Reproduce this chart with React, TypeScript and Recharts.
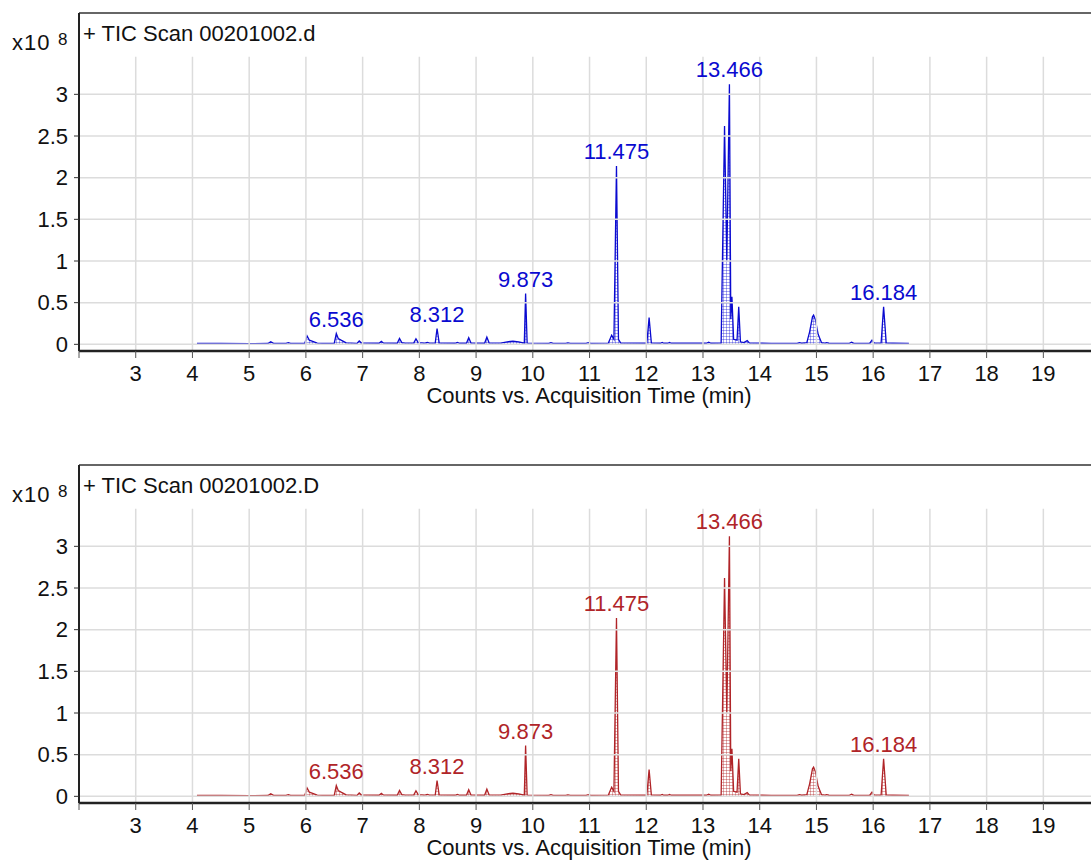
import React from 'react';
import { ComposedChart, Area, XAxis, YAxis, ReferenceLine, ReferenceDot } from 'recharts';

// Retention time (min)
const times = [
  4.08, 4.5, 5.0, 5.33, 5.38, 5.43, 5.65, 5.69, 5.73, 5.98,
  6.02, 6.06, 6.12, 6.2, 6.3, 6.5, 6.536, 6.57, 6.62, 6.71,
  6.9, 6.94, 6.98, 7.29, 7.33, 7.37, 7.61, 7.65, 7.69, 7.75,
  7.9, 7.94, 7.98, 8.1, 8.14, 8.18, 8.28, 8.312, 8.35, 8.63,
  8.67, 8.71, 8.83, 8.87, 8.91, 9.15, 9.19, 9.23, 9.43, 9.55,
  9.65, 9.75, 9.85, 9.873, 9.9, 10.28, 10.32, 10.36, 10.58, 10.62,
  10.66, 10.94, 10.98, 11.02, 11.33, 11.39, 11.43, 11.475, 11.51, 11.55,
  12.01, 12.05, 12.09, 12.25, 12.28, 12.31, 12.38, 12.41, 12.44, 13.06,
  13.1, 13.14, 13.32, 13.38, 13.42, 13.466, 13.49, 13.51, 13.54, 13.6,
  13.63, 13.66, 13.72, 13.78, 13.82, 14.2, 14.66, 14.7, 14.74, 14.83,
  14.88, 14.93, 14.95, 14.98, 15.03, 15.09, 15.15, 15.18, 15.22, 15.58,
  15.62, 15.66, 15.94, 15.98, 16.02, 16.14, 16.184, 16.23, 16.35, 16.63,
];

// Counts (x10^8)
const counts = [
  0.012, 0.01, 0.008, 0.01, 0.03, 0.012, 0.012, 0.02, 0.012, 0.012,
  0.1, 0.05, 0.035, 0.015, 0.012, 0.013, 0.13, 0.07, 0.05, 0.018,
  0.012, 0.04, 0.015, 0.013, 0.035, 0.014, 0.013, 0.07, 0.02, 0.015,
  0.014, 0.065, 0.02, 0.014, 0.022, 0.014, 0.014, 0.19, 0.016, 0.013,
  0.022, 0.013, 0.013, 0.08, 0.016, 0.013, 0.087, 0.016, 0.014, 0.03,
  0.038, 0.03, 0.015, 0.61, 0.014, 0.012, 0.02, 0.012, 0.012, 0.018,
  0.012, 0.012, 0.02, 0.012, 0.014, 0.11, 0.06, 2.14, 0.06, 0.015,
  0.013, 0.32, 0.014, 0.013, 0.022, 0.013, 0.013, 0.022, 0.013, 0.013,
  0.025, 0.013, 0.015, 2.62, 1.0, 3.12, 0.3, 0.57, 0.06, 0.05,
  0.45, 0.03, 0.02, 0.045, 0.015, 0.012, 0.012, 0.02, 0.013, 0.02,
  0.15, 0.33, 0.35, 0.3, 0.12, 0.02, 0.015, 0.02, 0.013, 0.012,
  0.025, 0.012, 0.013, 0.05, 0.014, 0.015, 0.45, 0.015, 0.013, 0.012,
];

const peakTimes = [6.536, 8.312, 9.873, 11.475, 13.466, 16.184];
const peakHeights = [0.13, 0.19, 0.61, 2.14, 3.12, 0.45];
const peakLabels = ['6.536', '8.312', '9.873', '11.475', '13.466', '16.184'];

const xTicks = [2, 3, 4, 5, 6, 7, 8, 9, 10, 11, 12, 13, 14, 15, 16, 17, 18, 19];
const gridTimes = [3, 4, 5, 6, 7, 8, 9, 10, 11, 12, 13, 14, 15, 16, 17, 18, 19];
const yTicks = [0, 0.5, 1, 1.5, 2, 2.5, 3];

const FONT = '"Liberation Sans", Arial, Helvetica, sans-serif';
const W = 1091;
const H = 452;
const X_DOMAIN: [number, number] = [2, 19.84];
const Y_DOMAIN: [number, number] = [-0.08, 3.976];
const GRID_TOP = 3.45;

type PanelProps = { title: string; color: string; hatch: string; id: string };

function Panel({ title, color, hatch, id }: PanelProps) {
  const data = times.map((t, i) => ({ t, v: counts[i] }));
  return (
    <div style={{ position: 'relative', width: W, height: H }}>
      <ComposedChart width={W} height={H} data={data} margin={{ top: 13, right: 0, bottom: 71, left: 0 }}>
        <defs>
          <pattern id={id} width="3" height="3" patternUnits="userSpaceOnUse">
            <rect width="3" height="3" fill="#ffffff" />
            <path d="M0 0.5 H3 M0.5 0 V3" stroke={hatch} strokeWidth="0.7" strokeOpacity="0.55" />
          </pattern>
        </defs>
        <XAxis
          type="number"
          dataKey="t"
          domain={X_DOMAIN}
          ticks={xTicks}
          interval={0}
          allowDataOverflow
          tickFormatter={(v: number) => (v === 2 ? '' : String(v))}
          axisLine={{ stroke: '#222', strokeWidth: 2.5 }}
          tickLine={{ stroke: '#555', strokeWidth: 1 }}
          tickSize={7}
          tickMargin={7}
          tick={{ fill: '#111', fontSize: 22, fontFamily: FONT }}
          height={30}
        />
        <YAxis
          type="number"
          domain={Y_DOMAIN}
          ticks={yTicks}
          interval={0}
          allowDataOverflow
          width={79}
          axisLine={{ stroke: '#222', strokeWidth: 2 }}
          tickLine={{ stroke: '#333', strokeWidth: 1 }}
          tickSize={5}
          tickMargin={6}
          tick={{ fill: '#111', fontSize: 22, fontFamily: FONT }}
        />
        {yTicks.map((v) => (
          <ReferenceLine key={'h' + v} y={v} stroke="#dcdcdc" strokeWidth={1.5} />
        ))}
        {gridTimes.map((t) => (
          <ReferenceLine
            key={'v' + t}
            segment={[{ x: t, y: Y_DOMAIN[0] }, { x: t, y: GRID_TOP }]}
            stroke="#dcdcdc"
            strokeWidth={1.5}
          />
        ))}
        <ReferenceLine y={Y_DOMAIN[1]} stroke="#333" strokeWidth={1.5} />
        <Area
          type="linear"
          dataKey="v"
          stroke={color}
          strokeWidth={1.3}
          fill={`url(#${id})`}
          fillOpacity={1}
          isAnimationActive={false}
          dot={false}
          activeDot={false}
        />
        {peakTimes.map((t, i) => (
          <ReferenceDot
            key={'p' + i}
            x={t}
            y={peakHeights[i]}
            r={0}
            fill="none"
            stroke="none"
            label={{ value: peakLabels[i], position: 'top', offset: 7, fill: color, fontSize: 22, fontFamily: FONT }}
          />
        ))}
      </ComposedChart>
      <svg
        width={W}
        height={H}
        style={{ position: 'absolute', left: 0, top: 0, pointerEvents: 'none' }}
      >
        <text x={12} y={50} fontSize={22} fontFamily={FONT} fill="#111" letterSpacing={1}>x10</text>
        <text x={58} y={45} fontSize={17} fontFamily={FONT} fill="#111">8</text>
        <text x={83} y={41} fontSize={22} fontFamily={FONT} fill="#111">{title}</text>
        <text x={589} y={403} fontSize={22} fontFamily={FONT} fill="#111" textAnchor="middle">
          Counts vs. Acquisition Time (min)
        </text>
      </svg>
    </div>
  );
}

export default function App() {
  return (
    <div style={{ position: 'absolute', left: 0, top: 0, width: W, height: 860, overflow: 'hidden', background: '#fff' }}>
      <Panel title="+ TIC Scan 00201002.d" color="#0a0ad0" hatch="#2020d8" id="hatchBlue" />
      <Panel title="+ TIC Scan 00201002.D" color="#b02428" hatch="#b02428" id="hatchRed" />
    </div>
  );
}
